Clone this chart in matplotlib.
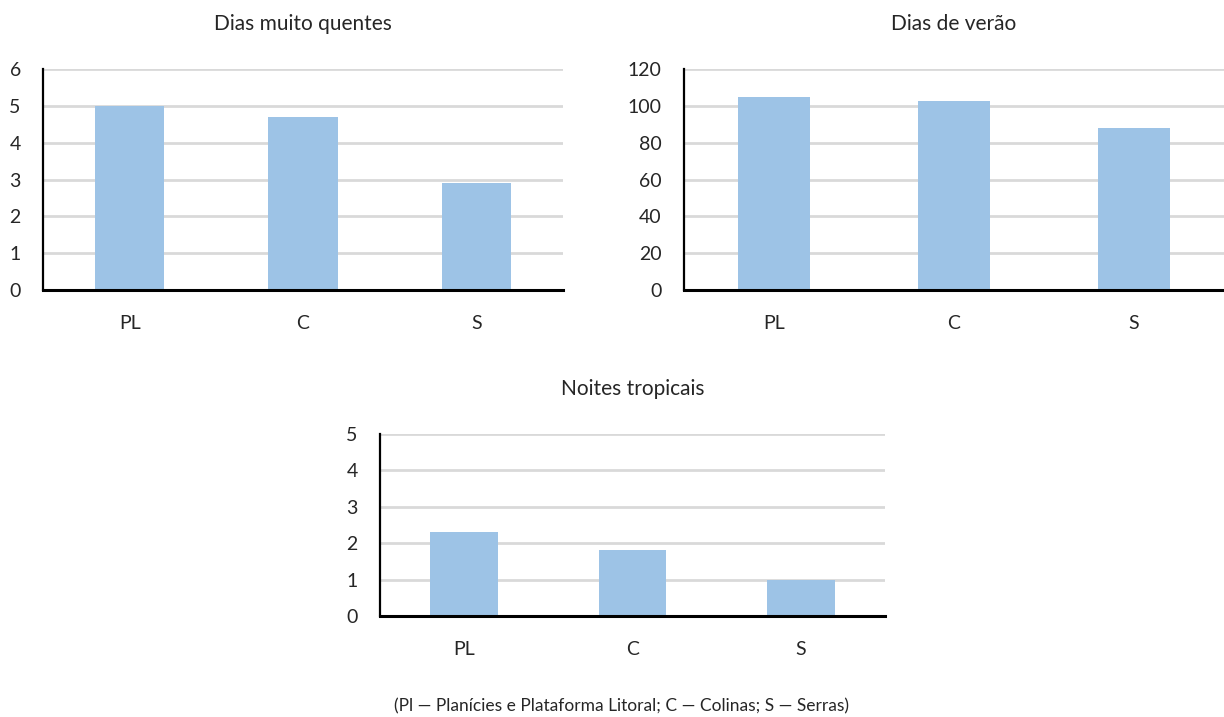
import matplotlib
matplotlib.use('Agg')
import matplotlib.pyplot as plt

plt.rcParams['font.family'] = ['Lato', 'DejaVu Sans']

categories = ['PL', 'C', 'S']
dias_muito_quentes = [5.0, 4.7, 2.9]
dias_de_verao = [105, 102.5, 88]
noites_tropicais = [2.3, 1.8, 1.0]

bar_color = '#9DC3E6'
grid_color = '#D9D9D9'
text_color = '#262626'

W, H = 1224, 717
fig = plt.figure(figsize=(W / 100, H / 100), dpi=100)


def panel(rect, values, title, ymax, step):
    x0, y0, x1, y1 = rect  # pixel box: left, top, right, bottom
    ax = fig.add_axes([x0 / W, 1 - y1 / H, (x1 - x0) / W, (y1 - y0) / H])
    ax.bar(range(len(categories)), values, width=0.4, color=bar_color, zorder=2)
    ax.set_xlim(-0.5, len(categories) - 0.5)
    ax.set_ylim(0, ymax)
    ax.set_yticks(range(0, ymax + 1, step))
    ax.set_xticks(range(len(categories)))
    ax.set_xticklabels(categories)
    ax.yaxis.grid(True, color=grid_color, linewidth=2)
    ax.set_axisbelow(True)
    for s in ['top', 'right']:
        ax.spines[s].set_visible(False)
    ax.spines['left'].set_linewidth(1.6)
    ax.spines['bottom'].set_linewidth(2.2)
    ax.tick_params(axis='both', length=0, labelsize=14, colors=text_color)
    ax.tick_params(axis='x', pad=18)
    ax.tick_params(axis='y', pad=16)
    ax.set_title(title, fontsize=15, pad=28, color=text_color)
    return ax


ax1 = panel((43, 69, 563, 290), dias_muito_quentes, 'Dias muito quentes', 6, 1)
ax2 = panel((684, 69, 1224, 290), dias_de_verao, 'Dias de verão', 120, 20)
ax3 = panel((380, 434, 885, 616), noites_tropicais, 'Noites tropicais', 5, 1)

fig.text(622 / W, 1 - 706 / H, '(Pl — Planícies e Plataforma Litoral; C — Colinas; S — Serras)',
         ha='center', va='center', fontsize=12.5, color=text_color)

fig.savefig('out.png', dpi=100)
